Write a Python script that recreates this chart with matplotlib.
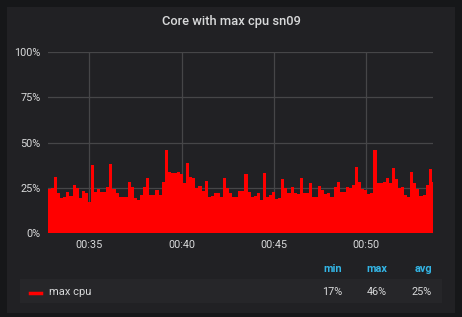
import datetime as dt
import numpy as np
import matplotlib
matplotlib.use("Agg")
import matplotlib.pyplot as plt
import matplotlib.dates as mdates
from matplotlib.patches import Rectangle

# %%
# cpu % of the busiest core, one sample every 10 s
cpu = [24.3, 25, 31.1, 22.3, 19.2, 20, 22.6, 20.4, 26.5, 25,
       19.5, 23.4, 21.9, 17.2, 37.6, 22.8, 24.1, 22.5, 22.5, 25.6,
       38, 24.3, 21.9, 20, 20, 20, 28, 25.2, 19.2, 18.2,
       21, 25.6, 30.2, 21, 21, 23.7, 21.3, 28.4, 46.2, 33.9,
       33, 33, 33.5, 32.6, 27.4, 38.5, 31.1, 30.2, 24.7, 26,
       23.2, 28.8, 20, 20.4, 21.9, 22.3, 20, 30.7, 25, 21.9,
       20, 19.7, 23.4, 23.4, 32.6, 22.8, 20, 20.4, 22.3, 18.2,
       33, 20, 21, 22.8, 18.8, 19.5, 29.8, 25, 22.3, 25.2,
       21.9, 21.6, 30.5, 22.3, 22.3, 27.4, 20, 20, 26, 23.7,
       21.6, 22.3, 20, 25.2, 28.4, 22.8, 22.8, 25.2, 25, 26.8,
       36.3, 28.2, 24.3, 23.7, 21.6, 22.3, 45.9, 27.4, 27.4, 28.4,
       30.5, 27.4, 35.8, 29.8, 24.7, 25.6, 21, 19.7, 33.9, 27.4,
       24.3, 20.4, 21, 26.5, 35.4, 28.4]
t0 = dt.datetime(2020, 1, 1, 0, 32, 45)
step = dt.timedelta(seconds=10)
times = [t0 + i * step for i in range(len(cpu))]
x_from = dt.datetime(2020, 1, 1, 0, 32, 44)
x_to = dt.datetime(2020, 1, 1, 0, 53, 39)

title = "Core with max cpu sn09"
series_name = "max cpu"
yticks = [0, 25, 50, 75, 100]

# %%
bg = "#161719"
panel = "#212124"
txt = "#d8d9da"
grid = "#464648"

plt.rcParams['font.family'] = ['Roboto', 'DejaVu Sans']

fig = plt.figure(figsize=(4.62, 3.17), dpi=100, facecolor=bg)
W, H = 462, 317

def box(x, y, w, h, c):
    fig.patches.append(Rectangle((x / W, 1 - (y + h) / H), w / W, h / H,
                                 transform=fig.transFigure, facecolor=c,
                                 edgecolor="none", zorder=-5))

box(7, 7, 448, 306, panel)
box(20, 279, 422, 24, "#262629")

ax = fig.add_axes([47.7 / W, 1 - 233 / H, (433 - 47.7) / W, (233 - 52.3) / H])
ax.set_zorder(2)
ax.patch.set_alpha(0)
ax.bar(times, cpu, width=step, align="edge", color="#ff0000", linewidth=0, zorder=3)

ax.set_xlim(x_from, x_to)
ax.set_ylim(0, 100)
ax.set_yticks(yticks)
ax.set_yticklabels(["%d%%" % v for v in yticks])
ax.xaxis.set_major_locator(mdates.MinuteLocator(byminute=[35, 40, 45, 50]))
ax.xaxis.set_major_formatter(mdates.DateFormatter("%H:%M"))
ax.grid(True, color=grid, lw=0.9, zorder=1)
ax.set_axisbelow(True)
for s in ax.spines.values():
    s.set_visible(False)
ax.tick_params(length=0, colors=txt, labelsize=7.8, pad=5)

fig.text(231 / W, 1 - 22 / H, title, color=txt, fontsize=9.3,
         fontweight="medium", ha="center", va="center")

# legend table
vals = np.array(cpu)
stats = [("min", vals.min()), ("max", vals.max()), ("avg", vals.mean())]
xs = [342, 387, 432]
for (lab, v), x in zip(stats, xs):
    fig.text(x / W, 1 - 269 / H, lab, color="#33b5e5", fontsize=7.8,
             fontweight="bold", ha="right", va="center")
    fig.text(x / W, 1 - 292 / H, "%d%%" % int(v), color=txt, fontsize=7.8,
             ha="right", va="center")
fig.lines.append(plt.Line2D([30 / W, 41 / W], [1 - 292.5 / H] * 2, color="#ff0000",
                            lw=2.5, transform=fig.transFigure))
fig.text(49 / W, 1 - 292 / H, series_name, color=txt, fontsize=8,
         ha="left", va="center")

fig.savefig("out.png", dpi=100, facecolor=bg)
